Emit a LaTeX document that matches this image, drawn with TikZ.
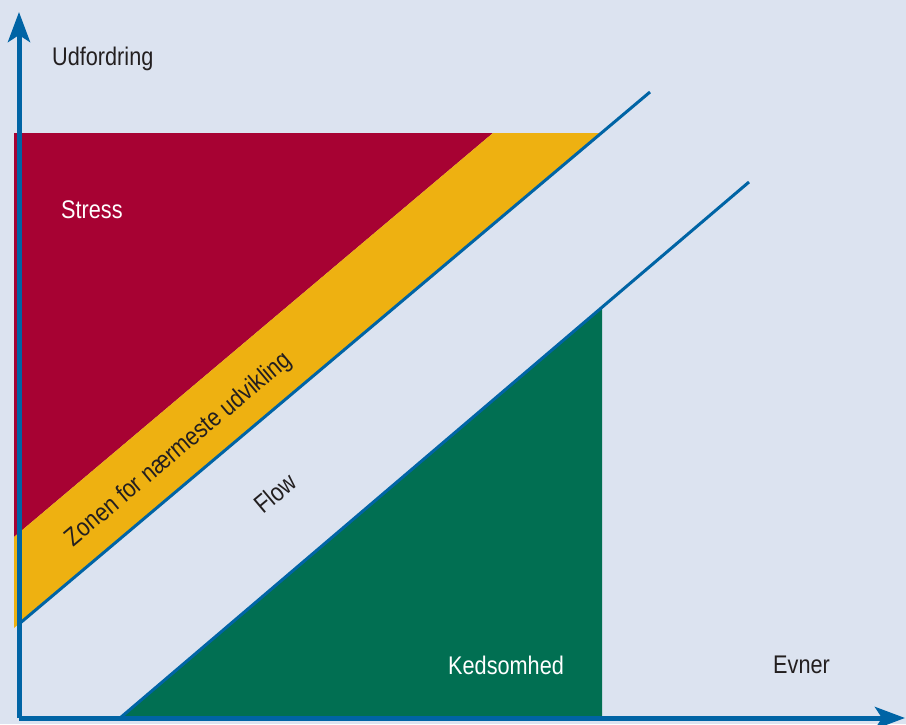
\documentclass[tikz,border=0pt]{standalone}
\usepackage{fontspec}
\setmainfont{Liberation Sans}[FakeStretch=0.85]
\usetikzlibrary{arrows.meta}

\definecolor{bgblue}{HTML}{DCE3F0}
\definecolor{stressred}{HTML}{A70233}
\definecolor{zoneyellow}{HTML}{EEB111}
\definecolor{boregreen}{HTML}{016F52}
\definecolor{axisblue}{HTML}{0064A5}
\definecolor{inkdark}{HTML}{231F20}

\tikzset{
  axisline/.style={draw=axisblue, line width=5pt,
    -{Stealth[length=30pt, width=22pt, inset=7pt]}},
  edgeline/.style={draw=axisblue, line width=3pt},
  lbl/.style={font=\fontsize{25.5}{29}\selectfont, text=inkdark, inner sep=0pt},
  lblwhite/.style={lbl, text=white},
}

\begin{document}
\begin{tikzpicture}[x=1pt, y=-1pt]
  % canvas
  \fill[bgblue] (0,0) rectangle (906,724);
  \useasboundingbox (0,0) rectangle (906,724);

  % zones
  \fill[stressred] (14,133) -- (493,133) -- (14,537) -- cycle;
  \fill[zoneyellow] (493,133) -- (600,133) -- (14,628) -- (14,537) -- cycle;
  \fill[boregreen] (120,718) -- (602,307) -- (602,718) -- cycle;

  % diagonal borders
  \coordinate (upperA) at (19,624);
  \coordinate (upperB) at (650,92);
  \coordinate (lowerA) at (120,718);
  \coordinate (lowerB) at (749,182);
  \draw[edgeline] (upperA) -- (upperB);
  \draw[edgeline] (lowerA) -- (lowerB);

  % axes
  \coordinate (origin) at (19,718);
  \coordinate (ytip) at (19,12);
  \coordinate (xtip) at (905,718);
  \draw[axisline] (origin) -- (ytip);
  \draw[axisline] (origin) -- (xtip);

  % labels
  \node[lbl, anchor=base west] (challenge) at (52,65) {Udfordring};
  \node[lblwhite, anchor=base west] (stress) at (61,218) {Stress};
  \node[lblwhite, anchor=base west] (boredom) at (448,674) {Kedsomhed};
  \node[lbl, anchor=base west] (skills) at (773,673) {Evner};
  \node[lbl, rotate=40] (flow) at (275,493) {Flow};
  \node[lbl, rotate=40] (zone) at (179,450) {Zonen for nærmeste udvikling};
\end{tikzpicture}
\end{document}
